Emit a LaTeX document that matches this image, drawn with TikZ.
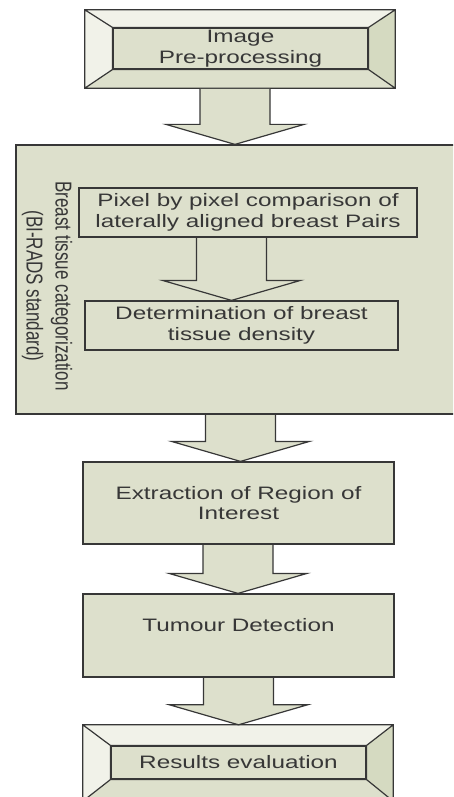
\documentclass[tikz,border=0pt]{standalone}
\usepackage{fontspec}
\usepackage{tikz}
\usetikzlibrary{
	calc,
	positioning,
}
\newfontfamily\boxfont[FakeStretch=1.35]{Liberation Sans}
\newfontfamily\sidefont[FakeStretch=0.74]{Liberation Sans}
\definecolor{sage}{RGB}{221,224,204}
\definecolor{sagelight}{RGB}{241,242,233}
\definecolor{sagedark}{RGB}{213,218,193}
\definecolor{edge}{RGB}{55,55,55}
\tikzset{
	stagebox/.style={rectangle, draw=edge, fill=sage, line width=1.2pt, inner sep=0pt,
		align=center, text=edge, font={\boxfont\fontsize{18}{20.5}\selectfont}},
	stagetext/.style={inner sep=0pt, align=center, text=edge, font={\boxfont\fontsize{18}{20.5}\selectfont}},
	sidetext/.style={inner sep=0pt, align=center, text=edge, font={\sidefont\fontsize{23}{29}\selectfont}},
	bevelbox/.style={rectangle, inner sep=0pt},
	blockarrow/.style={draw=edge, fill=sage, line width=1.2pt, line join=miter},
}
\newcommand{\bevelframe}[2]{%
	\fill[sagelight] (#1.north west) -- (#1.north east) -- (#2.north east) -- (#2.north west) -- cycle;
	\fill[sagelight] (#1.north west) -- (#2.north west) -- (#2.south west) -- (#1.south west) -- cycle;
	\fill[sagedark] (#1.north east) -- (#1.south east) -- (#2.south east) -- (#2.north east) -- cycle;
	\fill[sage] (#1.south west) -- (#1.south east) -- (#2.south east) -- (#2.south west) -- cycle;
	\draw[edge, line width=1.2pt]
		(#1.north west) -- (#2.north west) (#1.north east) -- (#2.north east)
		(#1.south west) -- (#2.south west) (#1.south east) -- (#2.south east)
		(#1.north west) rectangle (#1.south east)
		(#2.north west) rectangle (#2.south east);
}
\newcommand{\stagearrow}[3]{%
	\filldraw[blockarrow] let \p1=(#2.south), \p2=(#3.north), \p3=(#1,0) in
		(\x3-35pt,\y1-0.6pt) -- (\x3-35pt,\y2+20pt) -- (\x3-69pt,\y2+20pt) -- (\x3,\y2)
		-- (\x3+69pt,\y2+20pt) -- (\x3+35pt,\y2+20pt) -- (\x3+35pt,\y1-0.6pt);
}

\begin{document}
\begin{tikzpicture}[x=1pt, y=-1pt]
\clip (0,0) rectangle (453,797);

\node[bevelbox, minimum width=310, minimum height=78] (pre) at (240,49) {};
\node[stagebox, minimum width=255, minimum height=41] (prein) at (240.5,48.5) {Image\\Pre-processing};
\bevelframe{pre}{prein}

\node[stagebox, minimum width=452, minimum height=269] (birads) at (242,279.5) {};
\node[sidetext, rotate=-90] (category) at (47,286) {Breast tissue categorization\\(BI-RADS standard)};
\node[stagebox, minimum width=338, minimum height=49] (pixel) at (248,212.5)
	{Pixel by pixel comparison of\\laterally aligned breast Pairs};
\node[stagebox, minimum width=313, minimum height=49] (density) at (241.5,325.5)
	{Determination of breast\\tissue density};

\node[stagebox, minimum width=311, minimum height=82] (roi) at (238.5,503) {Extraction of Region of\\Interest};
\node[stagebox, minimum width=311, minimum height=83] (tumour) at (238.5,635.5) {};
\node[stagetext] (tumourtext) at (238.5,625) {Tumour Detection};

\node[bevelbox, minimum width=310, minimum height=76] (results) at (238,763) {};
\node[stagebox, minimum width=255, minimum height=33] (resultsin) at (238.5,762.5) {Results evaluation};
\bevelframe{results}{resultsin}

\stagearrow{235}{pre}{birads}
\stagearrow{231.5}{pixel}{density}
\stagearrow{240.5}{birads}{roi}
\stagearrow{238}{roi}{tumour}
\stagearrow{238.5}{tumour}{results}
\end{tikzpicture}
\end{document}
